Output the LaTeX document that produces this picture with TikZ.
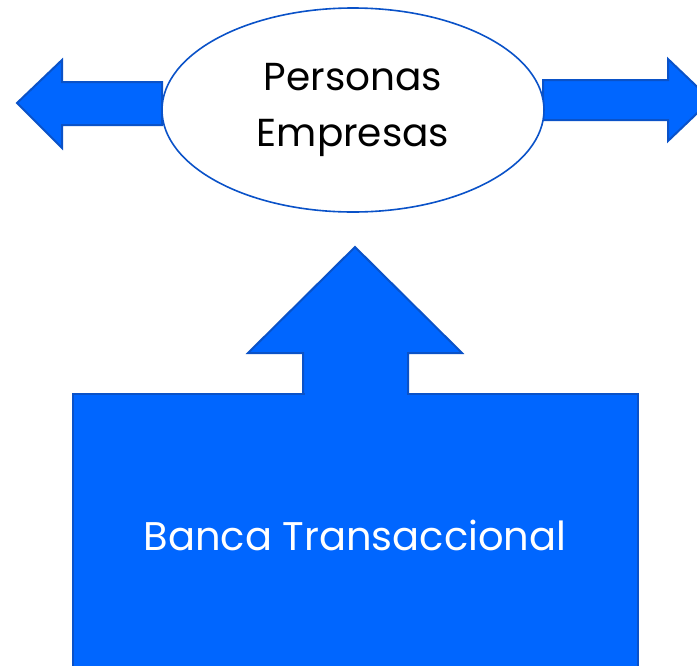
\documentclass[tikz,border=0pt]{standalone}
\usepackage{fontspec}
\setmainfont{Poppins}
\usetikzlibrary{shapes.geometric}
\definecolor{fillblue}{HTML}{0066FF}
\definecolor{lineblue}{HTML}{0A52C8}
\tikzset{
  blockarrow/.style={fill=fillblue, draw=lineblue, line width=2pt, line join=miter},
}
\begin{document}
\begin{tikzpicture}[x=1pt, y=-1pt]
  %%%%% START %%%%%
  \useasboundingbox (0,0) rectangle (697,665);
  \clip (0,0) rectangle (697,665);

  % left arrow
  \draw[blockarrow] (162,82) -- (62,82) -- (62,60) -- (17,103) -- (62,148) -- (62,125) -- (162,125) -- cycle;
  % right arrow
  \draw[blockarrow] (543,80) -- (668,80) -- (668,59) -- (711,100) -- (668,141) -- (668,120) -- (543,120) -- cycle;

  % ellipse
  \node[ellipse, draw=lineblue, line width=1.6pt, fill=white, minimum width=382pt, minimum height=204pt,
        align=center, font=\fontsize{39}{56}\selectfont] (clients) at (353,110) {Personas\\Empresas};

  % up arrow
  \draw[blockarrow] (303,400) -- (303,353) -- (248,353) -- (355,247) -- (462,353) -- (408,353) -- (408,400) -- cycle;

  % box
  \draw[blockarrow] (73,394) rectangle (638,700);
  \node[text=white, font=\fontsize{40}{46}\selectfont] (bank) at (355,535) {Banca Transaccional};
  \fill[fillblue] (304.5,392.5) rectangle (406.5,397);

  %%%%% END %%%%%
\end{tikzpicture}
\end{document}
